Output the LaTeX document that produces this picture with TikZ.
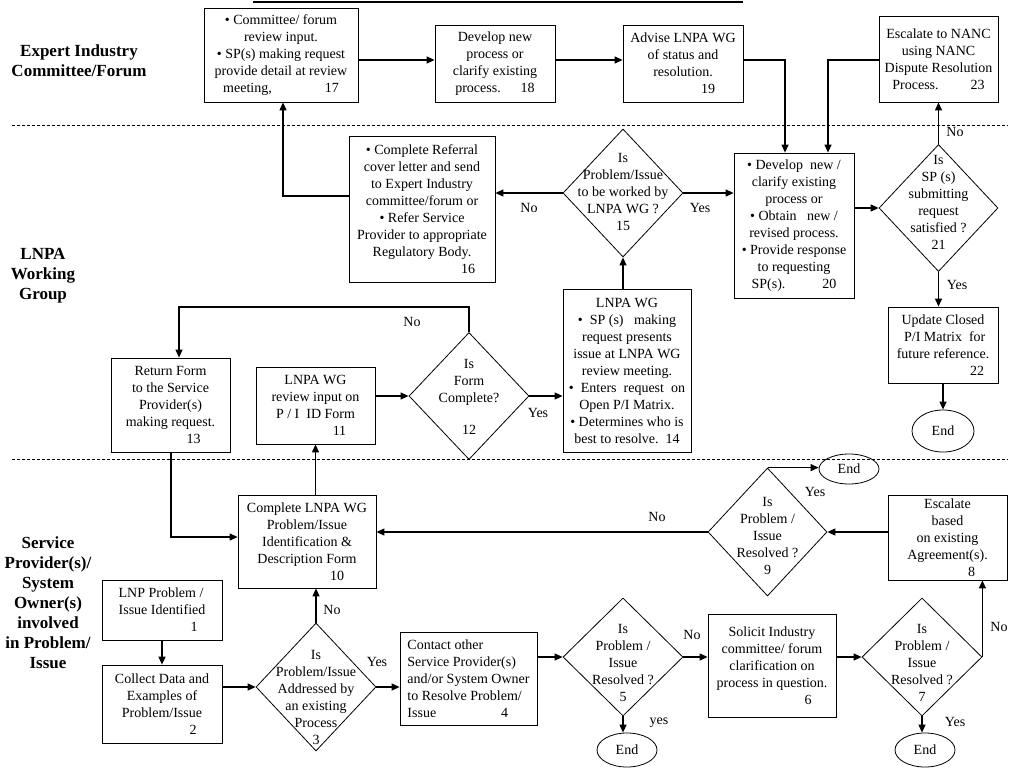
\documentclass[tikz,border=0pt]{standalone}
\usepackage{fontspec}
\setmainfont{Liberation Serif}
\usetikzlibrary{shapes.geometric,arrows.meta}
\newcommand{\boxfont}{\fontsize{14}{17}\selectfont}
\newcommand{\lanefont}{\fontsize{17}{20}\selectfont\bfseries}
\begin{document}
\begin{tikzpicture}[x=1pt,y=-1pt,
  box/.style={draw, line width=0.8pt, inner sep=0pt, align=center, font=\boxfont},
  dia/.style={draw, diamond, line width=0.8pt, inner sep=0pt},
  dtxt/.style={align=center, font=\boxfont, inner sep=0pt},
  endn/.style={draw, ellipse, line width=0.8pt, inner sep=0pt, font=\boxfont},
  lane/.style={align=center, font=\lanefont, inner sep=0pt},
  lbl/.style={font=\boxfont, inner sep=0pt},
  arr/.style={-{Triangle[length=8pt,width=7pt]}, line width=1.2pt},
  sep/.style={line width=0.7pt, dash pattern=on 3pt off 2pt},
]
\fill[white] (0,0) rectangle (1024,768);
\useasboundingbox (0,0) rectangle (1024,768);

% title underline and lane separators
\coordinate (tl1) at (253,2); \coordinate (tl2) at (743,2);
\draw[line width=2.5pt] (tl1) -- (tl2);
\coordinate (s1a) at (12,125); \coordinate (s1b) at (1008,125);
\coordinate (s2a) at (12,459); \coordinate (s2b) at (1008,459);
\draw[sep] (s1a) -- (s1b);
\draw[sep] (s2a) -- (s2b);

% lane titles
\node[lane] (lane1) at (79,61) {Expert Industry\\Committee/Forum};
\node[lane] (lane2) at (43,276) {LNPA\\Working\\Group};
\node[lane] (lane3) at (48,603) {Service\\Provider(s)/\\System\\Owner(s)\\involved\\in Problem/\\Issue};

% top lane
\node[box, minimum width=154, minimum height=94] (n17) at (281,55)
 {\textbullet\ Committee/ forum\\review input.\\\textbullet\ SP(s) making request\\provide detail at review\\meeting,\hspace{53pt}17};
\node[box, minimum width=120, minimum height=77] (n18) at (495,63.5)
 {Develop new\\process or\\clarify existing\\process.\hspace{20pt}18};
\node[box, minimum width=120, minimum height=77] (n19) at (683,63.5)
 {Advise LNPA WG\\of status and\\resolution.\\\hspace*{50pt}19};
\node[box, minimum width=119, minimum height=86] (n23) at (938.5,59)
 {Escalate to NANC\\using NANC\\Dispute Resolution\\Process.\hspace{32pt}23};

% LNPA lane
\node[box, minimum width=146, minimum height=146] (n16) at (422,209)
 {\textbullet\ Complete Referral\\cover letter and send\\to Expert Industry\\committee/forum or\\\textbullet\ Refer Service\\Provider to appropriate\\Regulatory Body.\\\hspace*{92pt}16};
\node[dia, minimum width=120, minimum height=128] (d15) at (623,193) {};
\node[dtxt] (t15) at (623,192) {Is\\Problem/Issue\\to be worked by\\LNPA WG ?\\15};
\node[box, minimum width=120, minimum height=145] (n20) at (794,225.5)
 {\textbullet\ Develop\ \ new /\\clarify existing\\process or\\\textbullet\ Obtain\ \ \ new /\\revised process.\\\textbullet\ Provide response\\to requesting\\SP(s).\hspace{37pt}20};
\node[dia, minimum width=119, minimum height=127] (d21) at (938.5,208) {};
\node[dtxt] (t21) at (938.5,202) {Is\\SP (s)\\submitting\\request\\satisfied ?\\21};
\node[box, minimum width=110, minimum height=76] (n22) at (943,345)
 {Update Closed\\\ P/I Matrix\ \ for\\future reference.\\\hspace*{68pt}22};
\node[endn, minimum width=62, minimum height=42] (e22) at (943,431) {End};

\node[box, minimum width=119, minimum height=94] (n13) at (170.5,405)
 {Return Form\\to the Service\\Provider(s)\\making request.\\\hspace*{46pt}13};
\node[box, minimum width=119, minimum height=77] (n11) at (315.5,405.5)
 {LNPA WG\\review input on\\P / I\ \ ID Form\\\hspace*{48pt}11};
\node[dia, minimum width=120, minimum height=127] (d12) at (469,396) {};
\node[dtxt] (t12) at (469,397) {Is\\Form\\Complete?\\[15pt]12};
\node[box, minimum width=128, minimum height=163] (n14) at (627,370.5)
 {LNPA WG\\\textbullet\ \ SP (s)\ \ \ making\\request presents\\issue at LNPA WG\\review meeting.\\\textbullet\ \ Enters\ \ request\ \ on\\Open P/I Matrix.\\\textbullet\ Determines who is\\best to resolve.\ \ 14};

% service provider lane
\node[box, minimum width=138, minimum height=93] (n10) at (307,541.5)
 {Complete LNPA WG\\Problem/Issue\\Identification \&\\Description Form\\\hspace*{60pt}10};
\node[dia, minimum width=119, minimum height=128] (d9) at (767.5,532) {};
\node[dtxt] (t9) at (767.5,536) {Is\\Problem /\\Issue\\Resolved ?\\9};
\node[endn, minimum width=60, minimum height=30] (e9) at (849,469) {End};
\node[box, minimum width=119, minimum height=85] (n8) at (947.5,537.5)
 {Escalate\\based\\on existing\\Agreement(s).\\\hspace*{48pt}8};
\node[dia, minimum width=120, minimum height=118] (d7) at (922,657) {};
\node[dtxt] (t7) at (922,663) {Is\\Problem /\\Issue\\Resolved ?\\7};
\node[endn, minimum width=60, minimum height=34] (e7) at (925,750) {End};
\node[box, minimum width=128, minimum height=103] (n6) at (772,665.5)
 {Solicit Industry\\committee/ forum\\clarification on\\process in question.\\\hspace*{72pt}6};
\node[dia, minimum width=120, minimum height=118] (d5) at (623,657) {};
\node[dtxt] (t5) at (623,663) {Is\\Problem /\\Issue\\Resolved ?\\5};
\node[endn, minimum width=60, minimum height=34] (e5) at (627,750) {End};
\node[box, align=left, minimum width=137, minimum height=93] (n4) at (468.5,678.5)
 {Contact other\\Service Provider(s)\\and/or System Owner\\to Resolve Problem/\\Issue\hspace{65pt}4};
\node[dia, minimum width=120, minimum height=128] (d3) at (316,687) {};
\node[dtxt] (t3) at (316,697) {Is\\Problem/Issue\\Addressed by\\an existing\\Process\\3};
\node[box, align=left, minimum width=120, minimum height=60] (n1) at (162,610)
 {LNP Problem /\\Issue Identified\\\hspace*{72pt}1};
\node[box, minimum width=120, minimum height=78] (n2) at (162,704)
 {Collect Data and\\Examples of\\Problem/Issue\\\hspace*{62pt}2};

% bend coordinates
\coordinate (r60) at (0,60);
\coordinate (k19) at (785,60);
\coordinate (k23) at (828,60);
\coordinate (k16) at (283,196);
\coordinate (k12) at (179,307);
\coordinate (k13) at (171,537);

% connectors, top lane
\draw[arr] (n17.east |- r60) -- (n18.west |- r60);
\draw[arr] (n18.east |- r60) -- (n19.west |- r60);
\draw[arr] (n19.east |- k19) -- (k19) -- (k19 |- n20.north);
\draw[arr] (n23.west |- k23) -- (k23) -- (k23 |- n20.north);
\draw[arr] (d21.north) -- (d21.north |- n23.south);
\draw[arr] (n16.west |- k16) -- (k16) -- (k16 |- n17.south);

% LNPA lane
\draw[arr] (d15.west) -- (d15.west -| n16.east);
\draw[arr] (d15.east) -- (d15.east -| n20.west);
\draw[arr] (n20.east |- d21) -- (d21.west);
\draw[arr] (d21.south) -- (d21.south |- n22.north);
\draw[arr] (n22.south) -- (e22.north);
\draw[arr] (d15.south |- n14.north) -- (d15.south);
\draw[arr] (n11.east |- d12) -- (d12.west);
\draw[arr] (d12.east) -- (d12.east -| n14.west);
\draw[arr] (d12.north) |- (k12) -- (k12 |- n13.north);
\draw[arr] (k13 |- n13.south) -- (k13) -- (k13 -| n10.west);
\draw[arr] (n11.south |- n10.north) -- (n11.south);

% service lane
\draw[arr] (d9.west) -- (d9.west -| n10.east);
\draw[arr] (d9.north) -- (d9.north -| e9.west);
\draw[arr] (n8.west |- d9) -- (d9.east);
\draw[arr] (d7.east) -- (d7.east |- n8.south);
\draw[arr] (d7.south) -- (d7.south |- e7.north);
\draw[arr] (n6.east |- d7) -- (d7.west);
\draw[arr] (d5.east) -- (d5.east -| n6.west);
\draw[arr] (d5.south) -- (d5.south |- e5.north);
\draw[arr] (n4.east |- d5) -- (d5.west);
\draw[arr] (d3.east) -- (d3.east -| n4.west);
\draw[arr] (d3.north) -- (d3.north |- n10.south);
\draw[arr] (n1.south) -- (n2.north);
\draw[arr] (n2.east |- d3) -- (d3.west);

% connector labels
\node[lbl] (l15n) at (529,208) {No};
\node[lbl] (l15y) at (700,208) {Yes};
\node[lbl] (l21n) at (955,132) {No};
\node[lbl] (l21y) at (957,285) {Yes};
\node[lbl] (l12n) at (412,322) {No};
\node[lbl] (l12y) at (538,413) {Yes};
\node[lbl] (l9n) at (657,517) {No};
\node[lbl] (l9y) at (815,492) {Yes};
\node[lbl] (l7n) at (999,627) {No};
\node[lbl] (l7y) at (955,722) {Yes};
\node[lbl] (l5n) at (692,635) {No};
\node[lbl] (l5y) at (659,723) {yes};
\node[lbl] (l3n) at (332,610) {No};
\node[lbl] (l3y) at (377,662) {Yes};
\end{tikzpicture}
\end{document}
